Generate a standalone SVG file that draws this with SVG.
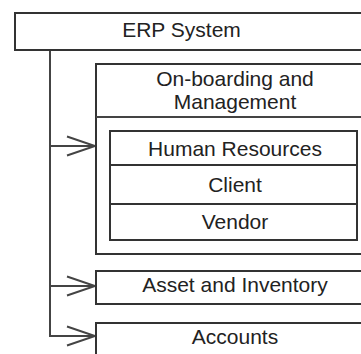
<svg xmlns="http://www.w3.org/2000/svg" width="361" height="354" viewBox="0 0 361 354">
<style>
.box{fill:#fff;stroke:#333;stroke-width:2}
.ln{fill:none;stroke:#444;stroke-width:2}
.t{font-family:"Liberation Sans",Arial,sans-serif;font-size:21px;fill:#222;text-anchor:middle}
</style>
<defs>
<marker id="arr" markerUnits="userSpaceOnUse" markerWidth="32" markerHeight="24" viewBox="0 0 32 24" refX="29" refY="12" orient="auto">
<path d="M1,2.5 L29,12 L1,21.5" fill="none" stroke="#444" stroke-width="2"/>
</marker>
</defs>
<rect width="361" height="354" fill="#fff"/>
<g id="connectors">
<path class="ln" d="M50,50 V336 H95" marker-end="url(#arr)"/>
<path class="ln" d="M50,146 H95" marker-end="url(#arr)"/>
<path class="ln" d="M50,286 H95" marker-end="url(#arr)"/>
</g>
<g id="erp">
<rect class="box" x="15" y="13" width="360" height="37"/>
<text class="t" x="181.5" y="37">ERP System</text>
</g>
<g id="onboarding">
<rect class="box" x="96" y="64" width="280" height="190"/>
<line class="ln" x1="96" y1="117" x2="376" y2="117"/>
<text class="t" x="235" y="86">On-boarding and</text>
<text class="t" x="235" y="108.5">Management</text>
</g>
<g id="hr">
<rect class="box" x="110" y="131" width="247" height="34"/>
<text class="t" x="235" y="156">Human Resources</text>
</g>
<g id="client">
<rect class="box" x="110" y="165" width="247" height="39"/>
<text class="t" x="235" y="192">Client</text>
</g>
<g id="vendor">
<rect class="box" x="110" y="204" width="247" height="36"/>
<text class="t" x="235" y="229">Vendor</text>
</g>
<g id="asset">
<rect class="box" x="96" y="271" width="280" height="33"/>
<text class="t" x="235" y="292">Asset and Inventory</text>
</g>
<g id="accounts">
<rect class="box" x="96" y="323" width="280" height="40"/>
<text class="t" x="235" y="343.5">Accounts</text>
</g>
</svg>
